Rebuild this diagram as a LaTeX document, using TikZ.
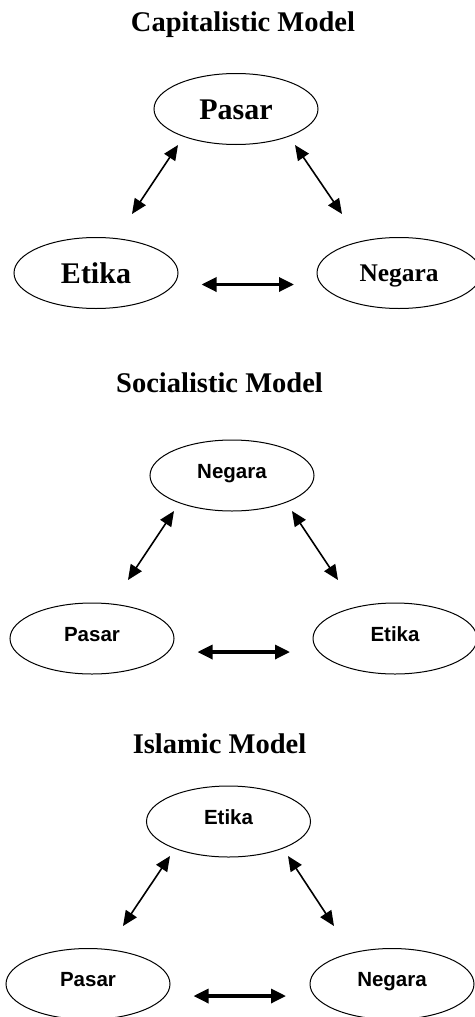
\documentclass[tikz,border=0pt]{standalone}
\usepackage{fontspec}
\setmainfont{Liberation Serif}
\setsansfont{Liberation Sans}
\usetikzlibrary{shapes.geometric,arrows.meta}
\tikzset{
  oval/.style={draw, ellipse, line width=1pt, inner sep=0pt, minimum width=164pt, minimum height=71pt},
  serifbig/.style={font=\fontsize{30}{30}\selectfont\bfseries, text height=20pt, text depth=0pt},
  serifmid/.style={font=\fontsize{25.4}{25.4}\selectfont\bfseries, text height=17pt, text depth=0pt},
  sanslab/.style={font=\sffamily\fontsize{20.5}{20.5}\selectfont\bfseries, text height=14.7pt, text depth=9pt},
  title/.style={font=\fontsize{28.5}{28.5}\selectfont\bfseries, anchor=base, inner sep=0pt},
  diag/.style={line width=1.6pt, {Triangle[length=15pt,width=13pt]}-{Triangle[length=15pt,width=13pt]}},
  horiz/.style={line width=3.3pt, {Triangle[length=15pt,width=14pt]}-{Triangle[length=15pt,width=14pt]}}
}
\begin{document}
\begin{tikzpicture}[x=1pt,y=-1pt]
\useasboundingbox (0,0) rectangle (474,1017);
% ---------- Capitalistic ----------
\node[title] (t1) at (243,31.7) {Capitalistic Model};
\node[oval,serifbig] (p1) at (236,109) {Pasar};
\node[oval,serifbig] (e1) at (96,273) {Etika};
\node[oval,serifmid] (n1) at (399,273) {Negara};
\coordinate (a1s) at (178,145); \coordinate (a1e) at (132,214);
\coordinate (b1s) at (295,145); \coordinate (b1e) at (342,214);
\coordinate (c1s) at (201.5,284.5); \coordinate (c1e) at (294,284.5);
\draw[diag] (a1s) -- (a1e);
\draw[diag] (b1s) -- (b1e);
\draw[horiz] (c1s) -- (c1e);
% ---------- Socialistic ----------
\node[title] (t2) at (219.5,392) {Socialistic Model};
\node[oval,sanslab] (n2) at (232,475.5) {Negara};
\node[oval,sanslab] (p2) at (92,638.5) {Pasar};
\node[oval,sanslab] (e2) at (395,638.5) {Etika};
\coordinate (a2s) at (174,511); \coordinate (a2e) at (128,580);
\coordinate (b2s) at (292,511); \coordinate (b2e) at (338,580);
\coordinate (c2s) at (197.5,652); \coordinate (c2e) at (290,652);
\draw[diag] (a2s) -- (a2e);
\draw[diag] (b2s) -- (b2e);
\draw[horiz] (c2s) -- (c2e);
% ---------- Islamic ----------
\node[title] (t3) at (219.5,753) {Islamic Model};
\node[oval,sanslab] (e3) at (228.5,821.5) {Etika};
\node[oval,sanslab] (p3) at (88,984) {Pasar};
\node[oval,sanslab] (n3) at (392,984) {Negara};
\coordinate (a3s) at (170,856); \coordinate (a3e) at (123,926);
\coordinate (b3s) at (288,856); \coordinate (b3e) at (334,926);
\coordinate (c3s) at (193.5,996); \coordinate (c3e) at (286,996);
\draw[diag] (a3s) -- (a3e);
\draw[diag] (b3s) -- (b3e);
\draw[horiz] (c3s) -- (c3e);
\end{tikzpicture}
\end{document}
